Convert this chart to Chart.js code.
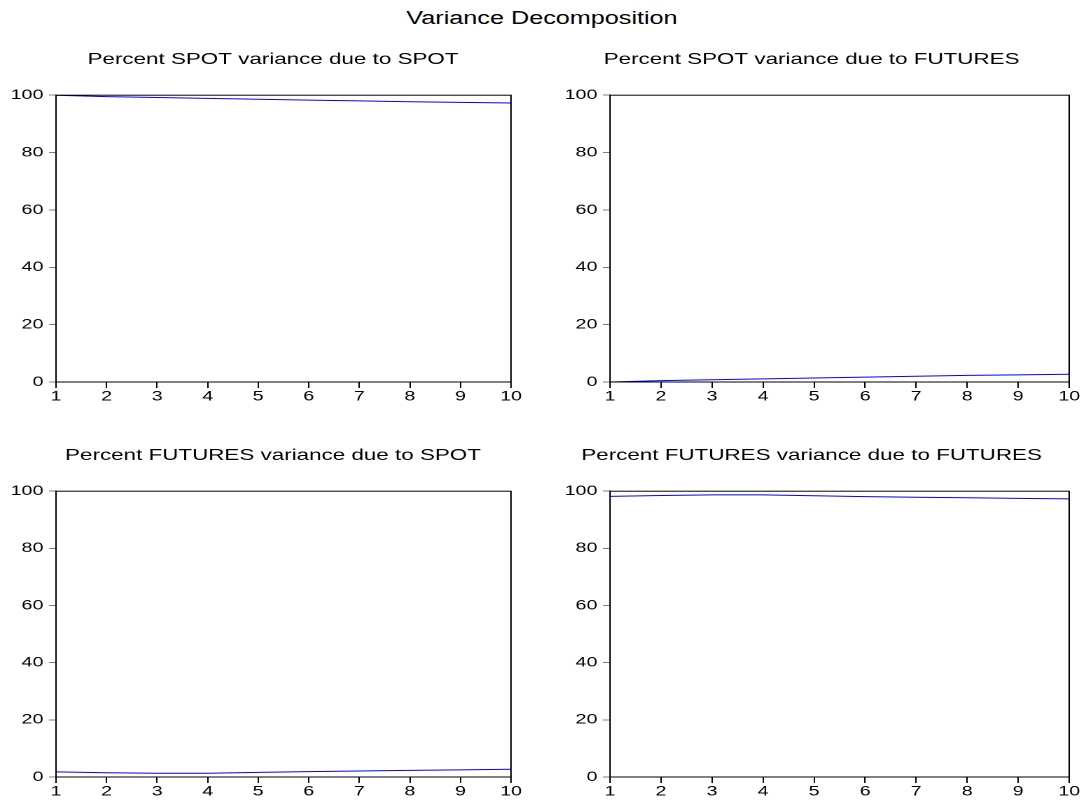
<!DOCTYPE html>
<html>
<head>
<meta charset="utf-8">
<script src="https://cdn.jsdelivr.net/npm/chart.js@4.4.0/dist/chart.umd.min.js"></script>
<style>
  body { margin: 0; background: #fff; width: 1084px; height: 803px; position: relative; overflow: hidden; }
  /* the original picture is stretched sideways, so every block is drawn narrow and widened by 1.4 */
  .wide { position: absolute; transform: scaleX(1.4); transform-origin: 0 0; }
  #mainTitle { left: 150px; top: 8px; width: 560px; text-align: center;
    font-family: "Liberation Sans", Arial, sans-serif; font-size: 18px; color: #000; }
</style>
</head>
<body>
<div id="mainTitle" class="wide">Variance Decomposition</div>
<div class="wide" style="left:0px;top:40px;width:395px;height:370px"><canvas id="c1"></canvas></div>
<div class="wide" style="left:554px;top:40px;width:380px;height:370px"><canvas id="c2"></canvas></div>
<div class="wide" style="left:0px;top:436px;width:395px;height:369px"><canvas id="c3"></canvas></div>
<div class="wide" style="left:554px;top:436px;width:380px;height:369px"><canvas id="c4"></canvas></div>
<script>
const periods = ["1", "2", "3", "4", "5", "6", "7", "8", "9", "10"];
const yTicks = [0, 20, 40, 60, 80, 100];

const spotDueSpot = [100, 99.5, 99.2, 98.9, 98.6, 98.3, 98.0, 97.7, 97.5, 97.3];
const spotDueFutures = [0, 0.5, 0.8, 1.1, 1.4, 1.7, 2.0, 2.3, 2.5, 2.7];
const futDueSpot = [1.8, 1.5, 1.3, 1.3, 1.6, 1.9, 2.1, 2.3, 2.5, 2.7];
const futDueFutures = [98.2, 98.5, 98.7, 98.7, 98.4, 98.1, 97.9, 97.7, 97.5, 97.3];

const titles = [
  "Percent SPOT variance due to SPOT",
  "Percent SPOT variance due to FUTURES",
  "Percent FUTURES variance due to SPOT",
  "Percent FUTURES variance due to FUTURES",
];

const FONT = "'Liberation Sans', Arial, sans-serif";

// full black box around the plot area
const frame = {
  id: "frame",
  afterDraw(chart) {
    const a = chart.chartArea, ctx = chart.ctx;
    ctx.save();
    ctx.strokeStyle = "#000";
    ctx.lineWidth = 1;
    ctx.strokeRect(a.left, a.top, a.right - a.left, a.bottom - a.top);
    ctx.restore();
  },
};

// spacer: empty right axis, so the title can be centred off the plot centre
function makePanel(id, title, values, padRight, spacer) {
  const scales = {
    x: {
      offset: false,
      grid: { drawOnChartArea: false, drawTicks: true, tickLength: 6, tickColor: "#000" },
      border: { display: true, color: "#000" },
      ticks: { color: "#000", font: { family: FONT, size: 14 }, padding: 0, maxRotation: 0, autoSkip: false },
      afterFit(scale) { scale.height = 28; },
    },
    y: {
      min: 0,
      max: 100,
      afterBuildTicks(scale) { scale.ticks = yTicks.map(v => ({ value: v })); },
      grid: { drawOnChartArea: false, drawTicks: true, tickLength: 5, tickColor: "#808080" },
      border: { display: true, color: "#000" },
      ticks: { color: "#000", font: { family: FONT, size: 14 }, padding: 4 },
      afterFit(scale) { scale.width = 40; },
    },
  };
  if (spacer) {
    scales.pad = {
      position: "right",
      min: 0,
      max: 100,
      grid: { display: false, drawTicks: false },
      border: { display: false },
      ticks: { display: false },
      afterFit(scale) { scale.width = spacer; },
    };
  }
  new Chart(document.getElementById(id), {
    type: "line",
    data: {
      labels: periods,
      datasets: [{
        data: values,
        borderColor: "#0000ff",
        borderWidth: 1,
        pointRadius: 0,
        tension: 0,
        fill: false,
      }],
    },
    options: {
      responsive: true,
      maintainAspectRatio: false,
      animation: false,
      devicePixelRatio: 2,
      layout: { padding: { top: 0, bottom: 0, left: 0, right: padRight } },
      plugins: {
        legend: { display: false },
        tooltip: { enabled: false },
        title: {
          display: true,
          text: title,
          color: "#000",
          font: { family: FONT, size: 16, weight: "normal", lineHeight: 1.2 },
          padding: { top: 10, bottom: 26 },
        },
      },
      scales: scales,
    },
    plugins: [frame],
  });
}

makePanel("c1", titles[0], spotDueSpot, 5, 25);
makePanel("c2", titles[1], spotDueFutures, 12, 0);
makePanel("c3", titles[2], futDueSpot, 5, 25);
makePanel("c4", titles[3], futDueFutures, 12, 0);
</script>
</body>
</html>
